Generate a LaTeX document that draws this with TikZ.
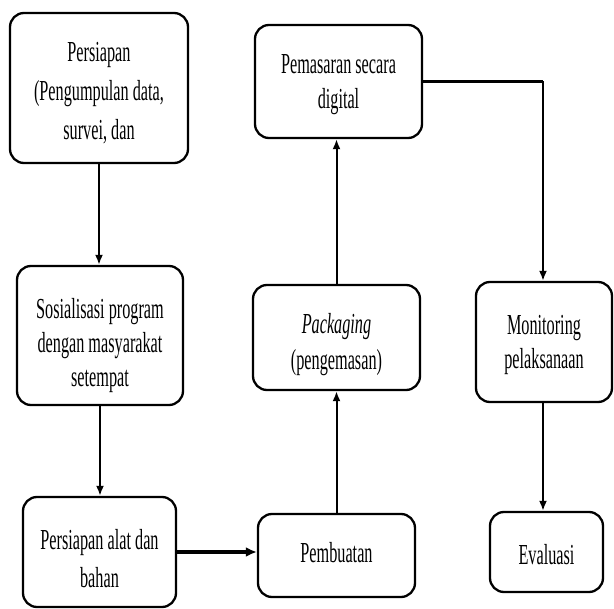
\documentclass[tikz,border=0pt]{standalone}
\usepackage{fontspec}
\setmainfont[FakeStretch=0.56]{Liberation Serif}
\usetikzlibrary{arrows.meta}
\begin{document}
\begin{tikzpicture}[x=1pt,y=-1pt,
  box/.style={draw,line width=2.3pt,rounded corners=14pt,inner sep=0pt},
  txt/.style={inner sep=0pt,align=center,font=\fontsize{29}{35}\selectfont},
  conn/.style={line width=2pt,-{Latex[length=10pt,width=8pt]}},
  thick conn/.style={line width=3.5pt,-{Latex[length=11pt,width=10pt]}}]
\useasboundingbox (0,0) rectangle (614,609);
\node[box,minimum width=178pt,minimum height=150pt] (b1) at (99,88) {};
\node[box,minimum width=166pt,minimum height=139pt] (b7) at (100,335.5) {};
\node[box,minimum width=153pt,minimum height=110pt] (b8) at (99.5,552) {};
\node[box,minimum width=167pt,minimum height=113pt] (b2) at (338.5,81.5) {};
\node[box,minimum width=167pt,minimum height=105pt] (b3) at (336.5,337.5) {};
\node[box,minimum width=157pt,minimum height=83pt] (b4) at (336.5,555.5) {};
\node[box,minimum width=136pt,minimum height=120pt] (b5) at (544,342) {};
\node[box,minimum width=113pt,minimum height=80pt] (b6) at (546.5,552) {};
\node[txt,font=\fontsize{29}{39}\selectfont,yshift=-5pt] (t1) at (b1.center)
  {Persiapan\\(Pengumpulan data,\\survei, dan};
\node[txt,font=\fontsize{29}{34}\selectfont,yshift=-10pt] (t7) at (b7.center)
  {Sosialisasi program\\dengan masyarakat\\setempat};
\node[txt,font=\fontsize{29}{38}\selectfont,yshift=-7pt] (t8) at (b8.center)
  {Persiapan alat dan\\bahan};
\node[txt,yshift=-3pt] (t2) at (b2.center) {Pemasaran secara\\digital};
\node[txt,font=\fontsize{29}{36}\selectfont,yshift=-7pt] (t3) at (b3.center)
  {\textit{Packaging}\\(pengemasan)};
\node[txt,yshift=3pt] (t4) at (b4.center) {Pembuatan};
\node[txt,font=\fontsize{29}{34}\selectfont,yshift=-3pt] (t5) at (b5.center)
  {Monitoring\\pelaksanaan};
\node[txt,yshift=-3pt] (t6) at (b6.center) {Evaluasi};
\draw[conn] (b1.south) -- (b1.south |- b7.north);
\draw[conn] (b7.south) -- (b7.south |- b8.north);
\draw[thick conn] (b8.east) -- (b8.east -| b4.west);
\draw[conn] (b4.north) -- (b4.north |- b3.south);
\draw[conn] (b3.north) -- (b3.north |- b2.south);
\draw[line width=3.2pt] (b2.east) -- (543,81.5);
\draw[conn] (543,81.5) -- (543,81.5 |- b5.north);
\draw[conn] (b5.south -| 543,0) -- (543,0 |- b6.north);
\end{tikzpicture}
\end{document}
